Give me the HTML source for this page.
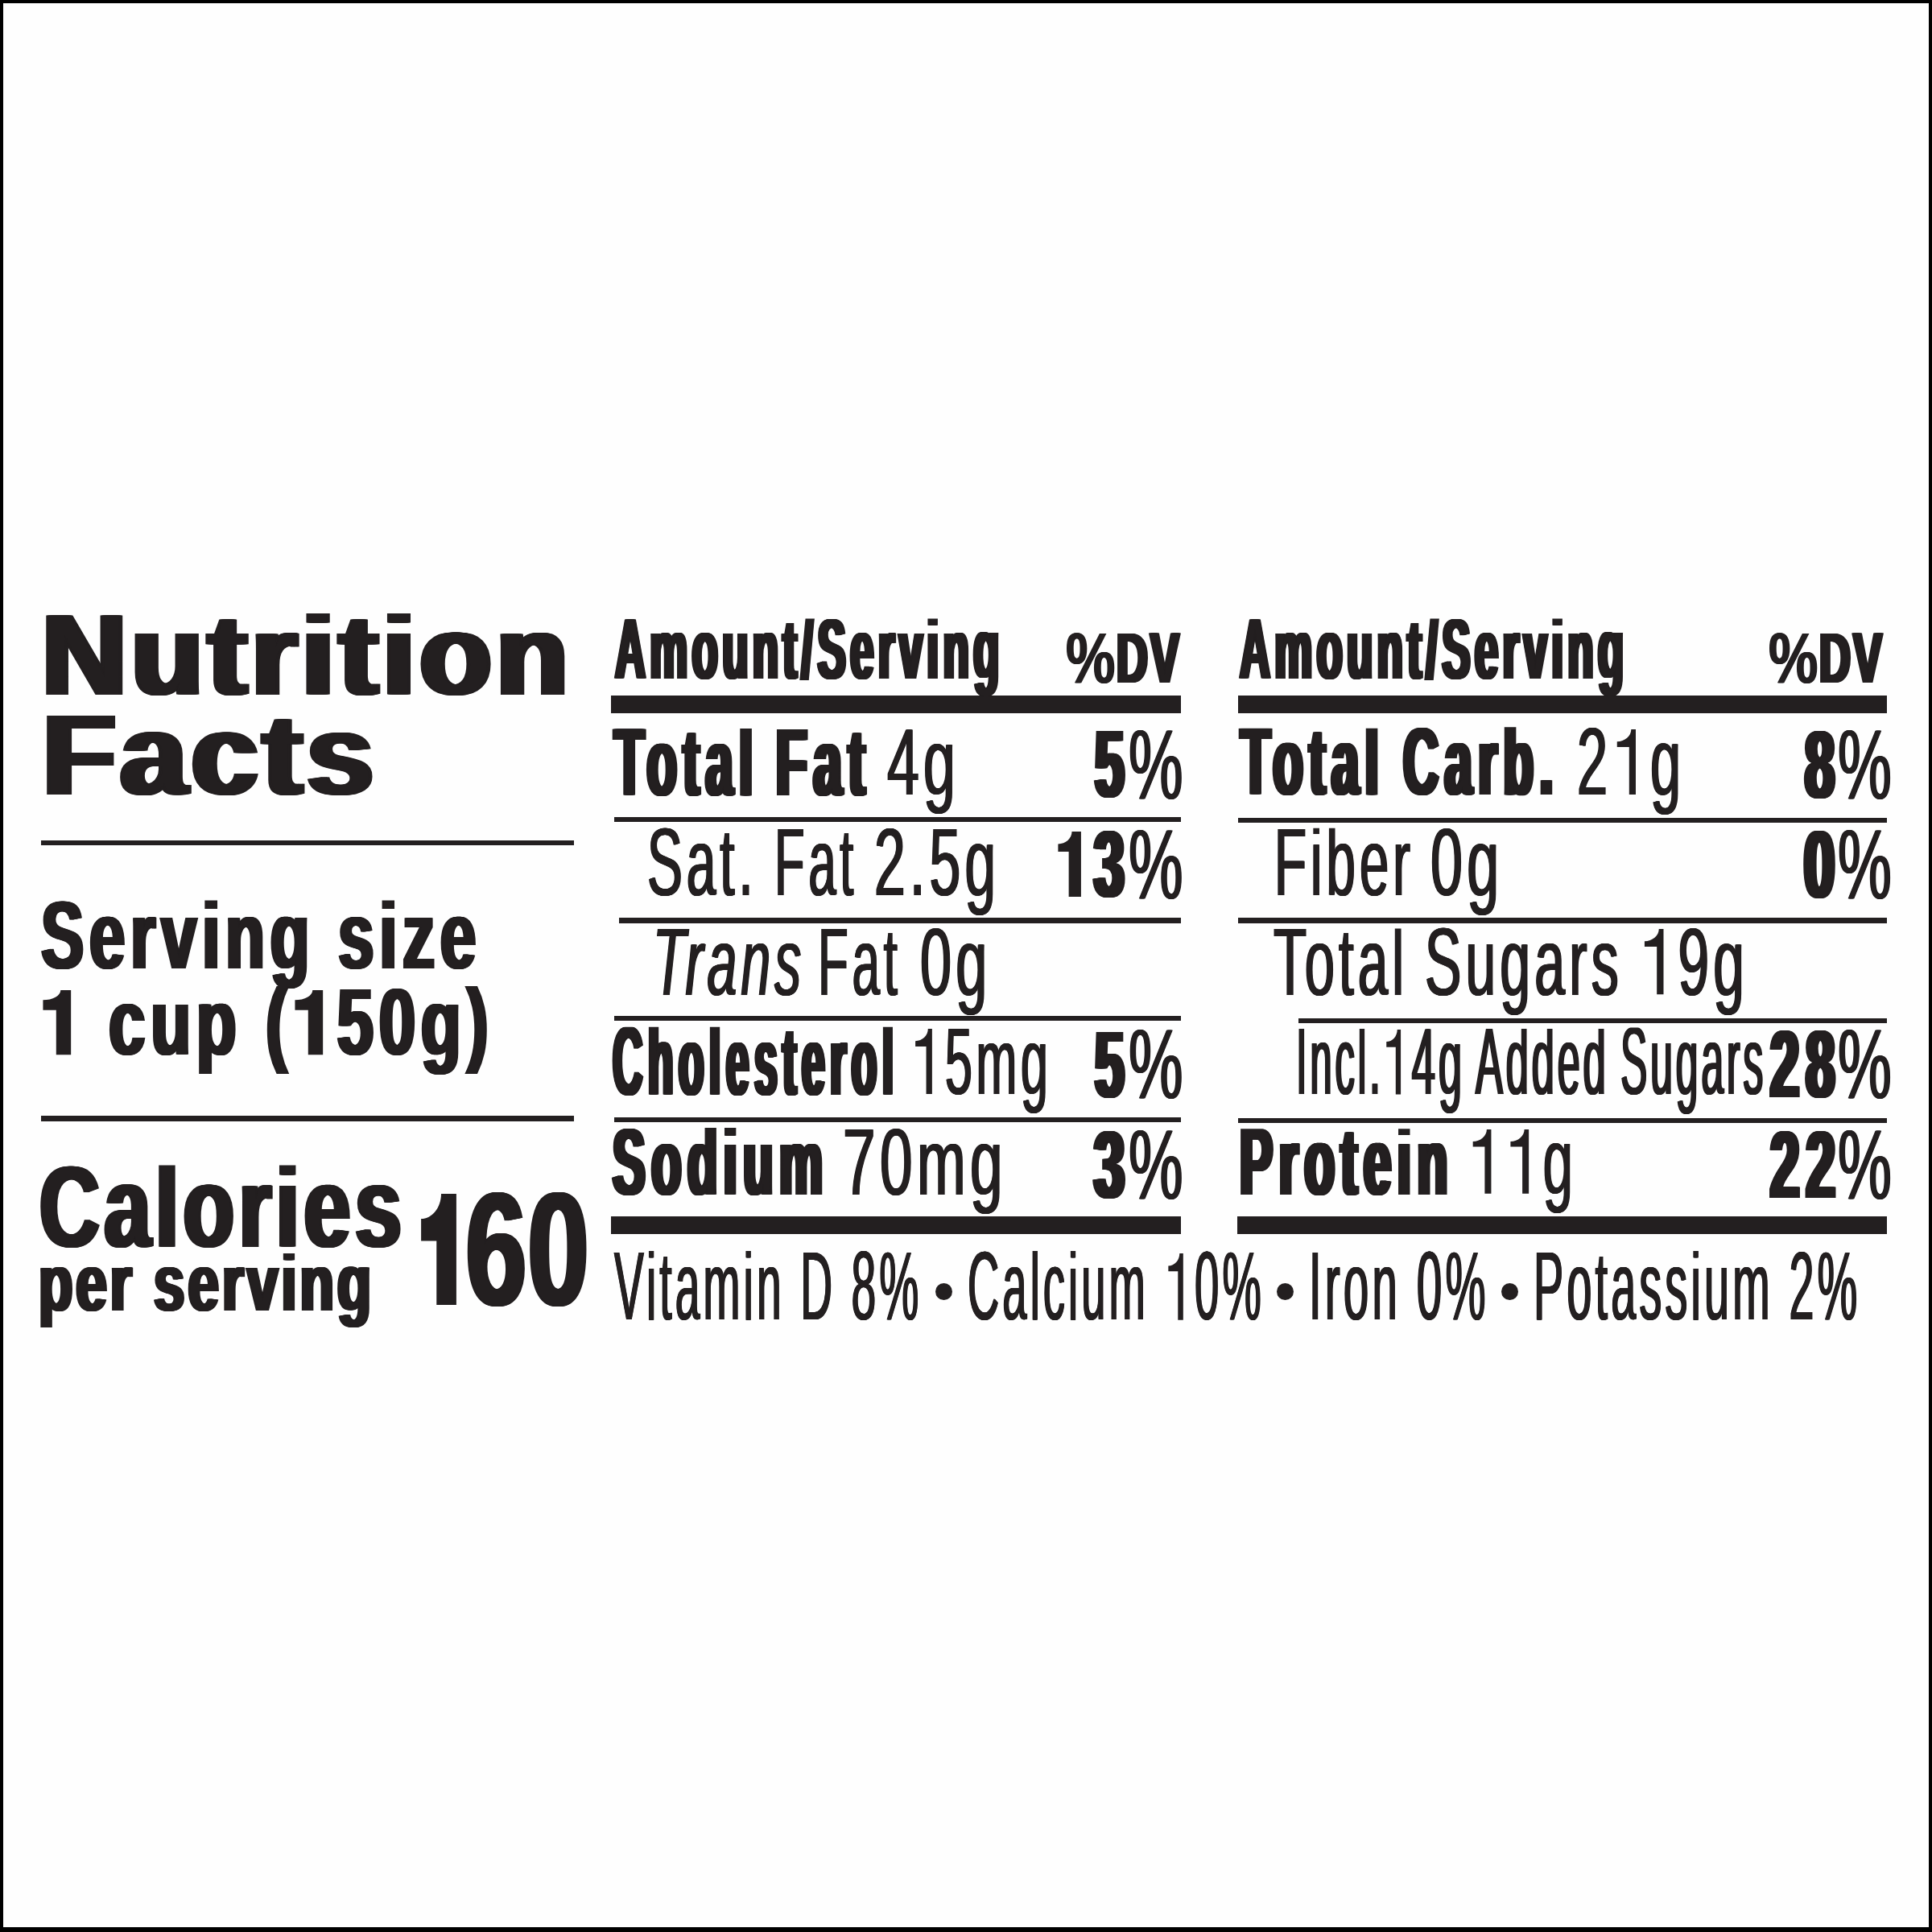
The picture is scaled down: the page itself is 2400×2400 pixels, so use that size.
<!DOCTYPE html>
<html><head><meta charset="utf-8"><title>Nutrition Facts</title>
<style>
html,body{margin:0;padding:0;background:#fefefe;}
body{width:2400px;height:2400px;position:relative;overflow:hidden;font-family:"Liberation Sans",sans-serif;color:#231f20;}
.frame{position:absolute;left:0;top:0;width:2400px;height:2400px;box-sizing:border-box;border-style:solid;border-color:#000;border-width:4px 4px 6px 4px;}
.t{position:absolute;white-space:pre;line-height:1;transform-origin:0 0;}
.r{position:absolute;background:#231f20;}
.b{position:absolute;background:#231f20;border-radius:50%;}
.one{display:inline-block;vertical-align:baseline;overflow:visible;}
.h1{font-size:0;letter-spacing:0;text-shadow:none;}
</style></head><body>
<div class="frame"></div>
<div class="r" style="left:50.9px;top:1043.5px;width:661.9px;height:6.5px"></div>
<div class="r" style="left:50.9px;top:1386.2px;width:661.9px;height:6.6px"></div>
<div class="r" style="left:758.5px;top:864.1px;width:708.7px;height:22.1px"></div>
<div class="r" style="left:762.6px;top:1014.5px;width:704.6px;height:6.2px"></div>
<div class="r" style="left:769.2px;top:1140.2px;width:698.0px;height:6.4px"></div>
<div class="r" style="left:762.6px;top:1262.1px;width:704.6px;height:6.2px"></div>
<div class="r" style="left:762.6px;top:1388.0px;width:704.6px;height:5.8px"></div>
<div class="r" style="left:758.5px;top:1511.2px;width:708.7px;height:22.0px"></div>
<div class="r" style="left:1538.3px;top:864.1px;width:806.1px;height:22.1px"></div>
<div class="r" style="left:1538.3px;top:1015.8px;width:806.1px;height:6.7px"></div>
<div class="r" style="left:1538.3px;top:1140.4px;width:806.1px;height:6.7px"></div>
<div class="r" style="left:1613.4px;top:1265.0px;width:731.0px;height:6.2px"></div>
<div class="r" style="left:1538.3px;top:1389.0px;width:806.1px;height:6.3px"></div>
<div class="r" style="left:1537.3px;top:1511.2px;width:807.1px;height:22.0px"></div>
<div class="b" style="left:1161.9px;top:1593.5px;width:21.4px;height:21.4px"></div>
<div class="b" style="left:1585.9px;top:1593.5px;width:21.4px;height:21.4px"></div>
<div class="b" style="left:1865.1px;top:1593.5px;width:21.4px;height:21.4px"></div>
<div class="t" style="left:51.88px;top:743.05px;transform:scaleX(1.0236);font-weight:bold;font-style:normal;font-size:142.90px;letter-spacing:5.43px;text-shadow:1.13px 0 0 #231f20, -1.13px 0 0 #231f20, 2.25px 0 0 #231f20, -2.25px 0 0 #231f20, 3.38px 0 0 #231f20, -3.38px 0 0 #231f20, 4.50px 0 0 #231f20, -4.50px 0 0 #231f20;clip-path:inset(18.93px -300px -300px -300px);">Nutrition</div>
<div class="t" style="left:52.90px;top:867.37px;transform:scaleX(1.0414);font-weight:bold;font-style:normal;font-size:142.75px;letter-spacing:5.42px;text-shadow:1.50px 0 0 #231f20, -1.50px 0 0 #231f20, 3.00px 0 0 #231f20, -3.00px 0 0 #231f20, 4.50px 0 0 #231f20, -4.50px 0 0 #231f20;clip-path:inset(18.91px -300px -300px -300px);">Facts</div>
<div class="t" style="left:50.90px;top:1101.96px;transform:scaleX(0.6706);font-weight:bold;font-style:normal;font-size:118.99px;letter-spacing:10.11px;text-shadow:1.15px 0 0 #231f20, -1.15px 0 0 #231f20, 2.30px 0 0 #231f20, -2.30px 0 0 #231f20, 3.45px 0 0 #231f20, -3.45px 0 0 #231f20;clip-path:inset(16.66px -300px -300px -300px);">Serving size</div>
<div class="t" style="left:51.36px;top:1212.32px;transform:scaleX(0.6971);font-weight:bold;font-style:normal;font-size:116.67px;letter-spacing:9.92px;text-shadow:1.13px 0 0 #231f20, -1.13px 0 0 #231f20, 2.26px 0 0 #231f20, -2.26px 0 0 #231f20, 3.38px 0 0 #231f20, -3.38px 0 0 #231f20;"><svg class="one" viewBox="0 0 672 688" preserveAspectRatio="none" style="width:0.6720em;height:0.6880em"><path d="M231 688L457 688L457 0L299 0C299 58 178 106 30 106L30 213L231 213Z" fill="#231f20"/></svg><span class="h1">1</span> cup (<svg class="one" viewBox="0 0 672 688" preserveAspectRatio="none" style="width:0.6720em;height:0.6880em"><path d="M231 688L457 688L457 0L299 0C299 58 178 106 30 106L30 213L231 213Z" fill="#231f20"/></svg><span class="h1">1</span>50g)</div>
<div class="t" style="left:49.07px;top:1428.13px;transform:scaleX(0.7235);font-weight:bold;font-style:normal;font-size:143.04px;letter-spacing:8.15px;text-shadow:1.43px 0 0 #231f20, -1.43px 0 0 #231f20, 2.86px 0 0 #231f20, -2.86px 0 0 #231f20, 4.29px 0 0 #231f20, -4.29px 0 0 #231f20;clip-path:inset(19.45px -300px -300px -300px);">Calories</div>
<div class="t" style="left:48.32px;top:1543.01px;transform:scaleX(0.6891);font-weight:bold;font-style:normal;font-size:100.58px;letter-spacing:5.73px;text-shadow:1.17px 0 0 #231f20, -1.17px 0 0 #231f20, 2.35px 0 0 #231f20, -2.35px 0 0 #231f20, 3.52px 0 0 #231f20, -3.52px 0 0 #231f20;clip-path:inset(14.08px -300px -300px -300px);">per serving</div>
<div class="t" style="left:519.29px;top:1451.63px;transform:scaleX(0.6828);font-weight:bold;font-style:normal;font-size:200.43px;letter-spacing:1.50px;text-shadow:1.27px 0 0 #231f20, -1.27px 0 0 #231f20, 2.54px 0 0 #231f20, -2.54px 0 0 #231f20, 3.81px 0 0 #231f20, -3.81px 0 0 #231f20;"><svg class="one" viewBox="0 0 433 688" preserveAspectRatio="none" style="width:0.4331em;height:0.6880em"><path d="M170 688L350 688L350 0L212 0C212 86 130 155 30 155L30 292L170 292Z" fill="#231f20"/></svg><span class="h1">1</span>60</div>
<div class="t" style="left:763.91px;top:753.71px;transform:scaleX(0.4999);font-weight:bold;font-style:normal;font-size:105.07px;letter-spacing:11.03px;text-shadow:1.31px 0 0 #231f20, -1.31px 0 0 #231f20, 2.63px 0 0 #231f20, -2.63px 0 0 #231f20, 3.94px 0 0 #231f20, -3.94px 0 0 #231f20, 5.25px 0 0 #231f20, -5.25px 0 0 #231f20;clip-path:inset(14.71px -300px -300px -300px);">Amount/Serving</div>
<div class="t" style="left:1323.96px;top:773.22px;transform:scaleX(0.7705);font-weight:bold;font-style:normal;font-size:89.57px;letter-spacing:0.00px;text-shadow:0.90px 0 0 #231f20, -0.90px 0 0 #231f20;clip-path:inset(12.54px -300px -300px -300px);">%</div>
<div class="t" style="left:1387.23px;top:773.22px;transform:scaleX(0.5998);font-weight:bold;font-style:normal;font-size:89.57px;letter-spacing:5.37px;text-shadow:1.34px 0 0 #231f20, -1.34px 0 0 #231f20, 2.69px 0 0 #231f20, -2.69px 0 0 #231f20, 4.03px 0 0 #231f20, -4.03px 0 0 #231f20;clip-path:inset(12.54px -300px -300px -300px);">DV</div>
<div class="t" style="left:762.55px;top:886.79px;transform:scaleX(0.5122);font-weight:bold;font-style:normal;font-size:119.42px;letter-spacing:14.93px;text-shadow:1.49px 0 0 #231f20, -1.49px 0 0 #231f20, 2.99px 0 0 #231f20, -2.99px 0 0 #231f20, 4.48px 0 0 #231f20, -4.48px 0 0 #231f20, 5.97px 0 0 #231f20, -5.97px 0 0 #231f20;clip-path:inset(18.15px -300px -300px -300px);">Total</div>
<div class="t" style="left:963.85px;top:886.79px;transform:scaleX(0.5293);font-weight:bold;font-style:normal;font-size:119.42px;letter-spacing:14.93px;text-shadow:1.49px 0 0 #231f20, -1.49px 0 0 #231f20, 2.99px 0 0 #231f20, -2.99px 0 0 #231f20, 4.48px 0 0 #231f20, -4.48px 0 0 #231f20, 5.97px 0 0 #231f20, -5.97px 0 0 #231f20;clip-path:inset(18.15px -300px -300px -300px);">Fat</div>
<div class="t" style="left:1101.69px;top:888.15px;transform:scaleX(0.6102);font-weight:normal;font-style:normal;font-size:117.12px;letter-spacing:8.78px;text-shadow:0.82px 0 0 #231f20, -0.82px 0 0 #231f20, 1.64px 0 0 #231f20, -1.64px 0 0 #231f20;">4g</div>
<div class="t" style="left:1359.71px;top:891.23px;transform:scaleX(0.5572);font-weight:bold;font-style:normal;font-size:117.86px;letter-spacing:14.73px;text-shadow:1.47px 0 0 #231f20, -1.47px 0 0 #231f20, 2.95px 0 0 #231f20, -2.95px 0 0 #231f20, 4.42px 0 0 #231f20, -4.42px 0 0 #231f20, 5.89px 0 0 #231f20, -5.89px 0 0 #231f20;">5</div>
<div class="t" style="left:1402.48px;top:888.71px;transform:scaleX(0.6192);font-weight:normal;font-style:normal;font-size:122.70px;letter-spacing:9.20px;text-shadow:0.86px 0 0 #231f20, -0.86px 0 0 #231f20, 1.72px 0 0 #231f20, -1.72px 0 0 #231f20;">%</div>
<div class="t" style="left:804.30px;top:1011.33px;transform:scaleX(0.5516);font-weight:normal;font-style:normal;font-size:119.13px;letter-spacing:8.93px;text-shadow:0.83px 0 0 #231f20, -0.83px 0 0 #231f20, 1.67px 0 0 #231f20, -1.67px 0 0 #231f20;clip-path:inset(16.68px -300px -300px -300px);">Sat.</div>
<div class="t" style="left:961.89px;top:1011.33px;transform:scaleX(0.5174);font-weight:normal;font-style:normal;font-size:119.13px;letter-spacing:8.93px;text-shadow:0.83px 0 0 #231f20, -0.83px 0 0 #231f20, 1.67px 0 0 #231f20, -1.67px 0 0 #231f20;clip-path:inset(18.11px -300px -300px -300px);">Fat</div>
<div class="t" style="left:1086.46px;top:1011.33px;transform:scaleX(0.5842);font-weight:normal;font-style:normal;font-size:119.13px;letter-spacing:8.93px;text-shadow:0.83px 0 0 #231f20, -0.83px 0 0 #231f20, 1.67px 0 0 #231f20, -1.67px 0 0 #231f20;clip-path:inset(16.68px -300px -300px -300px);">2.5g</div>
<div class="t" style="left:1311.20px;top:1015.13px;transform:scaleX(0.5768);font-weight:bold;font-style:normal;font-size:117.75px;letter-spacing:14.72px;text-shadow:1.47px 0 0 #231f20, -1.47px 0 0 #231f20, 2.94px 0 0 #231f20, -2.94px 0 0 #231f20, 4.42px 0 0 #231f20, -4.42px 0 0 #231f20, 5.89px 0 0 #231f20, -5.89px 0 0 #231f20;"><svg class="one" viewBox="0 0 705 688" preserveAspectRatio="none" style="width:0.7050em;height:0.6880em"><path d="M245 688L470 688L470 0L302 0C302 72 189 131 50 131L50 213L245 213Z" fill="#231f20"/></svg><span class="h1">1</span>3</div>
<div class="t" style="left:1402.48px;top:1012.61px;transform:scaleX(0.6192);font-weight:normal;font-style:normal;font-size:122.70px;letter-spacing:9.20px;text-shadow:0.86px 0 0 #231f20, -0.86px 0 0 #231f20, 1.72px 0 0 #231f20, -1.72px 0 0 #231f20;">%</div>
<div class="t" style="left:811.33px;top:1135.58px;transform:scaleX(0.5575);font-weight:normal;font-style:italic;font-size:118.84px;letter-spacing:8.91px;text-shadow:0.83px 0 0 #231f20, -0.83px 0 0 #231f20, 1.66px 0 0 #231f20, -1.66px 0 0 #231f20;clip-path:inset(18.06px -300px -300px -300px);">Trans</div>
<div class="t" style="left:1016.46px;top:1135.58px;transform:scaleX(0.5214);font-weight:normal;font-style:normal;font-size:118.84px;letter-spacing:8.91px;text-shadow:0.83px 0 0 #231f20, -0.83px 0 0 #231f20, 1.66px 0 0 #231f20, -1.66px 0 0 #231f20;clip-path:inset(18.06px -300px -300px -300px);">Fat</div>
<div class="t" style="left:1142.55px;top:1135.56px;transform:scaleX(0.5896);font-weight:normal;font-style:normal;font-size:118.87px;letter-spacing:8.92px;text-shadow:0.83px 0 0 #231f20, -0.83px 0 0 #231f20, 1.66px 0 0 #231f20, -1.66px 0 0 #231f20;">0g</div>
<div class="t" style="left:761.22px;top:1258.81px;transform:scaleX(0.4289);font-weight:bold;font-style:normal;font-size:120.58px;letter-spacing:15.07px;text-shadow:1.21px 0 0 #231f20, -1.21px 0 0 #231f20, 2.41px 0 0 #231f20, -2.41px 0 0 #231f20, 3.62px 0 0 #231f20, -3.62px 0 0 #231f20, 4.82px 0 0 #231f20, -4.82px 0 0 #231f20, 6.03px 0 0 #231f20, -6.03px 0 0 #231f20;clip-path:inset(16.88px -300px -300px -300px);">Cholesterol</div>
<div class="t" style="left:1130.79px;top:1260.06px;transform:scaleX(0.5192);font-weight:normal;font-style:normal;font-size:117.68px;letter-spacing:8.83px;text-shadow:0.82px 0 0 #231f20, -0.82px 0 0 #231f20, 1.65px 0 0 #231f20, -1.65px 0 0 #231f20;"><svg class="one" viewBox="0 0 700 688" preserveAspectRatio="none" style="width:0.7000em;height:0.6880em"><path d="M320 688L440 688L440 0L357 0C357 71 241 129 100 129L100 186L320 186Z" fill="#231f20"/></svg><span class="h1">1</span>5mg</div>
<div class="t" style="left:1359.71px;top:1264.20px;transform:scaleX(0.5592);font-weight:bold;font-style:normal;font-size:117.43px;letter-spacing:14.68px;text-shadow:1.47px 0 0 #231f20, -1.47px 0 0 #231f20, 2.94px 0 0 #231f20, -2.94px 0 0 #231f20, 4.40px 0 0 #231f20, -4.40px 0 0 #231f20, 5.87px 0 0 #231f20, -5.87px 0 0 #231f20;">5</div>
<div class="t" style="left:1402.48px;top:1261.29px;transform:scaleX(0.6185);font-weight:normal;font-style:normal;font-size:122.84px;letter-spacing:9.21px;text-shadow:0.86px 0 0 #231f20, -0.86px 0 0 #231f20, 1.72px 0 0 #231f20, -1.72px 0 0 #231f20;">%</div>
<div class="t" style="left:760.82px;top:1384.56px;transform:scaleX(0.5170);font-weight:bold;font-style:normal;font-size:117.68px;letter-spacing:14.71px;text-shadow:1.47px 0 0 #231f20, -1.47px 0 0 #231f20, 2.94px 0 0 #231f20, -2.94px 0 0 #231f20, 4.41px 0 0 #231f20, -4.41px 0 0 #231f20, 5.88px 0 0 #231f20, -5.88px 0 0 #231f20;clip-path:inset(16.48px -300px -300px -300px);">Sodium</div>
<div class="t" style="left:1046.59px;top:1385.91px;transform:scaleX(0.6274);font-weight:normal;font-style:normal;font-size:116.09px;letter-spacing:8.71px;text-shadow:0.81px 0 0 #231f20, -0.81px 0 0 #231f20, 1.63px 0 0 #231f20, -1.63px 0 0 #231f20;">70mg</div>
<div class="t" style="left:1358.81px;top:1387.72px;transform:scaleX(0.5775);font-weight:bold;font-style:normal;font-size:118.45px;letter-spacing:14.81px;text-shadow:1.48px 0 0 #231f20, -1.48px 0 0 #231f20, 2.96px 0 0 #231f20, -2.96px 0 0 #231f20, 4.44px 0 0 #231f20, -4.44px 0 0 #231f20, 5.92px 0 0 #231f20, -5.92px 0 0 #231f20;">3</div>
<div class="t" style="left:1402.48px;top:1385.53px;transform:scaleX(0.6199);font-weight:normal;font-style:normal;font-size:122.55px;letter-spacing:9.19px;text-shadow:0.86px 0 0 #231f20, -0.86px 0 0 #231f20, 1.72px 0 0 #231f20, -1.72px 0 0 #231f20;">%</div>
<div class="t" style="left:763.25px;top:1537.18px;transform:scaleX(0.4588);font-weight:normal;font-style:normal;font-size:120.14px;letter-spacing:9.01px;text-shadow:0.84px 0 0 #231f20, -0.84px 0 0 #231f20, 1.68px 0 0 #231f20, -1.68px 0 0 #231f20;clip-path:inset(16.82px -300px -300px -300px);">Vitamin D 8%</div>
<div class="t" style="left:1201.60px;top:1537.18px;transform:scaleX(0.4525);font-weight:normal;font-style:normal;font-size:120.14px;letter-spacing:9.01px;text-shadow:0.84px 0 0 #231f20, -0.84px 0 0 #231f20, 1.68px 0 0 #231f20, -1.68px 0 0 #231f20;clip-path:inset(16.82px -300px -300px -300px);">Calcium <svg class="one" viewBox="0 0 700 688" preserveAspectRatio="none" style="width:0.7000em;height:0.6880em"><path d="M320 688L440 688L440 0L357 0C357 71 241 129 100 129L100 186L320 186Z" fill="#231f20"/></svg><span class="h1">1</span>0%</div>
<div class="t" style="left:1626.29px;top:1537.18px;transform:scaleX(0.4691);font-weight:normal;font-style:normal;font-size:120.14px;letter-spacing:9.01px;text-shadow:0.84px 0 0 #231f20, -0.84px 0 0 #231f20, 1.68px 0 0 #231f20, -1.68px 0 0 #231f20;clip-path:inset(16.82px -300px -300px -300px);">Iron 0%</div>
<div class="t" style="left:1904.70px;top:1537.18px;transform:scaleX(0.4639);font-weight:normal;font-style:normal;font-size:120.14px;letter-spacing:9.01px;text-shadow:0.84px 0 0 #231f20, -0.84px 0 0 #231f20, 1.68px 0 0 #231f20, -1.68px 0 0 #231f20;clip-path:inset(16.82px -300px -300px -300px);">Potassium 2%</div>
<div class="t" style="left:1539.51px;top:753.71px;transform:scaleX(0.4996);font-weight:bold;font-style:normal;font-size:105.07px;letter-spacing:11.03px;text-shadow:1.31px 0 0 #231f20, -1.31px 0 0 #231f20, 2.63px 0 0 #231f20, -2.63px 0 0 #231f20, 3.94px 0 0 #231f20, -3.94px 0 0 #231f20, 5.25px 0 0 #231f20, -5.25px 0 0 #231f20;clip-path:inset(14.71px -300px -300px -300px);">Amount/Serving</div>
<div class="t" style="left:2196.76px;top:773.22px;transform:scaleX(0.7705);font-weight:bold;font-style:normal;font-size:89.57px;letter-spacing:0.00px;text-shadow:0.90px 0 0 #231f20, -0.90px 0 0 #231f20;clip-path:inset(12.54px -300px -300px -300px);">%</div>
<div class="t" style="left:2260.02px;top:773.22px;transform:scaleX(0.6006);font-weight:bold;font-style:normal;font-size:89.57px;letter-spacing:5.37px;text-shadow:1.34px 0 0 #231f20, -1.34px 0 0 #231f20, 2.69px 0 0 #231f20, -2.69px 0 0 #231f20, 4.03px 0 0 #231f20, -4.03px 0 0 #231f20;clip-path:inset(12.54px -300px -300px -300px);">DV</div>
<div class="t" style="left:1541.14px;top:886.47px;transform:scaleX(0.5098);font-weight:bold;font-style:normal;font-size:119.57px;letter-spacing:14.95px;text-shadow:1.49px 0 0 #231f20, -1.49px 0 0 #231f20, 2.99px 0 0 #231f20, -2.99px 0 0 #231f20, 4.48px 0 0 #231f20, -4.48px 0 0 #231f20, 5.98px 0 0 #231f20, -5.98px 0 0 #231f20;clip-path:inset(18.17px -300px -300px -300px);">Total</div>
<div class="t" style="left:1743.21px;top:886.47px;transform:scaleX(0.5101);font-weight:bold;font-style:normal;font-size:119.57px;letter-spacing:14.95px;text-shadow:1.49px 0 0 #231f20, -1.49px 0 0 #231f20, 2.99px 0 0 #231f20, -2.99px 0 0 #231f20, 4.48px 0 0 #231f20, -4.48px 0 0 #231f20, 5.98px 0 0 #231f20, -5.98px 0 0 #231f20;clip-path:inset(16.74px -300px -300px -300px);">Carb.</div>
<div class="t" style="left:1959.01px;top:888.04px;transform:scaleX(0.5800);font-weight:normal;font-style:normal;font-size:117.83px;letter-spacing:8.84px;text-shadow:0.82px 0 0 #231f20, -0.82px 0 0 #231f20, 1.65px 0 0 #231f20, -1.65px 0 0 #231f20;">2<svg class="one" viewBox="0 0 700 688" preserveAspectRatio="none" style="width:0.7000em;height:0.6880em"><path d="M320 688L440 688L440 0L357 0C357 71 241 129 100 129L100 186L320 186Z" fill="#231f20"/></svg><span class="h1">1</span>g</div>
<div class="t" style="left:2241.73px;top:890.34px;transform:scaleX(0.5606);font-weight:bold;font-style:normal;font-size:119.01px;letter-spacing:14.88px;text-shadow:1.49px 0 0 #231f20, -1.49px 0 0 #231f20, 2.98px 0 0 #231f20, -2.98px 0 0 #231f20, 4.46px 0 0 #231f20, -4.46px 0 0 #231f20, 5.95px 0 0 #231f20, -5.95px 0 0 #231f20;">8</div>
<div class="t" style="left:2283.00px;top:888.71px;transform:scaleX(0.6125);font-weight:normal;font-style:normal;font-size:122.70px;letter-spacing:9.20px;text-shadow:0.86px 0 0 #231f20, -0.86px 0 0 #231f20, 1.72px 0 0 #231f20, -1.72px 0 0 #231f20;">%</div>
<div class="t" style="left:1582.81px;top:1010.76px;transform:scaleX(0.5509);font-weight:normal;font-style:normal;font-size:118.99px;letter-spacing:8.92px;text-shadow:0.83px 0 0 #231f20, -0.83px 0 0 #231f20, 1.67px 0 0 #231f20, -1.67px 0 0 #231f20;clip-path:inset(18.09px -300px -300px -300px);">Fiber</div>
<div class="t" style="left:1776.61px;top:1010.74px;transform:scaleX(0.6025);font-weight:normal;font-style:normal;font-size:119.01px;letter-spacing:8.93px;text-shadow:0.83px 0 0 #231f20, -0.83px 0 0 #231f20, 1.67px 0 0 #231f20, -1.67px 0 0 #231f20;">0g</div>
<div class="t" style="left:2241.09px;top:1015.05px;transform:scaleX(0.5792);font-weight:bold;font-style:normal;font-size:118.31px;letter-spacing:14.79px;text-shadow:1.48px 0 0 #231f20, -1.48px 0 0 #231f20, 2.96px 0 0 #231f20, -2.96px 0 0 #231f20, 4.44px 0 0 #231f20, -4.44px 0 0 #231f20, 5.92px 0 0 #231f20, -5.92px 0 0 #231f20;">0</div>
<div class="t" style="left:2283.00px;top:1012.61px;transform:scaleX(0.6125);font-weight:normal;font-style:normal;font-size:122.70px;letter-spacing:9.20px;text-shadow:0.86px 0 0 #231f20, -0.86px 0 0 #231f20, 1.72px 0 0 #231f20, -1.72px 0 0 #231f20;">%</div>
<div class="t" style="left:1581.93px;top:1135.59px;transform:scaleX(0.5689);font-weight:normal;font-style:normal;font-size:118.12px;letter-spacing:8.86px;text-shadow:0.83px 0 0 #231f20, -0.83px 0 0 #231f20, 1.65px 0 0 #231f20, -1.65px 0 0 #231f20;clip-path:inset(17.95px -300px -300px -300px);">Total</div>
<div class="t" style="left:1770.32px;top:1135.59px;transform:scaleX(0.5753);font-weight:normal;font-style:normal;font-size:118.12px;letter-spacing:8.86px;text-shadow:0.83px 0 0 #231f20, -0.83px 0 0 #231f20, 1.65px 0 0 #231f20, -1.65px 0 0 #231f20;clip-path:inset(16.54px -300px -300px -300px);">Sugars</div>
<div class="t" style="left:2035.77px;top:1135.59px;transform:scaleX(0.5870);font-weight:normal;font-style:normal;font-size:118.12px;letter-spacing:8.86px;text-shadow:0.83px 0 0 #231f20, -0.83px 0 0 #231f20, 1.65px 0 0 #231f20, -1.65px 0 0 #231f20;"><svg class="one" viewBox="0 0 700 688" preserveAspectRatio="none" style="width:0.7000em;height:0.6880em"><path d="M320 688L440 688L440 0L357 0C357 71 241 129 100 129L100 186L320 186Z" fill="#231f20"/></svg><span class="h1">1</span>9g</div>
<div class="t" style="left:1609.56px;top:1260.01px;transform:scaleX(0.4160);font-weight:normal;font-style:normal;font-size:117.97px;letter-spacing:8.85px;text-shadow:1.33px 0 0 #231f20, -1.33px 0 0 #231f20, 2.65px 0 0 #231f20, -2.65px 0 0 #231f20;clip-path:inset(17.93px -300px -300px -300px);">Incl.</div>
<div class="t" style="left:1717.45px;top:1260.15px;transform:scaleX(0.4482);font-weight:normal;font-style:normal;font-size:117.12px;letter-spacing:8.78px;text-shadow:1.32px 0 0 #231f20, -1.32px 0 0 #231f20, 2.64px 0 0 #231f20, -2.64px 0 0 #231f20;"><svg class="one" viewBox="0 0 700 688" preserveAspectRatio="none" style="width:0.7000em;height:0.6880em"><path d="M320 688L440 688L440 0L357 0C357 71 241 129 100 129L100 186L320 186Z" fill="#231f20"/></svg><span class="h1">1</span>4g</div>
<div class="t" style="left:1833.31px;top:1260.01px;transform:scaleX(0.4294);font-weight:normal;font-style:normal;font-size:117.97px;letter-spacing:8.85px;text-shadow:1.33px 0 0 #231f20, -1.33px 0 0 #231f20, 2.65px 0 0 #231f20, -2.65px 0 0 #231f20;clip-path:inset(17.93px -300px -300px -300px);">Added</div>
<div class="t" style="left:2013.35px;top:1260.01px;transform:scaleX(0.4242);font-weight:normal;font-style:normal;font-size:117.97px;letter-spacing:8.85px;text-shadow:1.33px 0 0 #231f20, -1.33px 0 0 #231f20, 2.65px 0 0 #231f20, -2.65px 0 0 #231f20;clip-path:inset(16.52px -300px -300px -300px);">Sugars</div>
<div class="t" style="left:2198.67px;top:1263.25px;transform:scaleX(0.5477);font-weight:bold;font-style:normal;font-size:118.31px;letter-spacing:14.79px;text-shadow:1.48px 0 0 #231f20, -1.48px 0 0 #231f20, 2.96px 0 0 #231f20, -2.96px 0 0 #231f20, 4.44px 0 0 #231f20, -4.44px 0 0 #231f20, 5.92px 0 0 #231f20, -5.92px 0 0 #231f20;">28</div>
<div class="t" style="left:2283.00px;top:1261.29px;transform:scaleX(0.6118);font-weight:normal;font-style:normal;font-size:122.84px;letter-spacing:9.21px;text-shadow:0.86px 0 0 #231f20, -0.86px 0 0 #231f20, 1.72px 0 0 #231f20, -1.72px 0 0 #231f20;">%</div>
<div class="t" style="left:1540.48px;top:1384.17px;transform:scaleX(0.5205);font-weight:bold;font-style:normal;font-size:118.26px;letter-spacing:14.78px;text-shadow:1.48px 0 0 #231f20, -1.48px 0 0 #231f20, 2.96px 0 0 #231f20, -2.96px 0 0 #231f20, 4.43px 0 0 #231f20, -4.43px 0 0 #231f20, 5.91px 0 0 #231f20, -5.91px 0 0 #231f20;clip-path:inset(17.98px -300px -300px -300px);">Protein</div>
<div class="t" style="left:1823.01px;top:1386.03px;transform:scaleX(0.5768);font-weight:normal;font-style:normal;font-size:115.94px;letter-spacing:8.70px;text-shadow:0.81px 0 0 #231f20, -0.81px 0 0 #231f20, 1.62px 0 0 #231f20, -1.62px 0 0 #231f20;"><svg class="one" viewBox="0 0 700 688" preserveAspectRatio="none" style="width:0.7000em;height:0.6880em"><path d="M320 688L440 688L440 0L357 0C357 71 241 129 100 129L100 186L320 186Z" fill="#231f20"/></svg><span class="h1">1</span><svg class="one" viewBox="0 0 700 688" preserveAspectRatio="none" style="width:0.7000em;height:0.6880em"><path d="M320 688L440 688L440 0L357 0C357 71 241 129 100 129L100 186L320 186Z" fill="#231f20"/></svg><span class="h1">1</span>g</div>
<div class="t" style="left:2198.68px;top:1387.73px;transform:scaleX(0.5515);font-weight:bold;font-style:normal;font-size:118.43px;letter-spacing:14.80px;text-shadow:1.48px 0 0 #231f20, -1.48px 0 0 #231f20, 2.96px 0 0 #231f20, -2.96px 0 0 #231f20, 4.44px 0 0 #231f20, -4.44px 0 0 #231f20, 5.92px 0 0 #231f20, -5.92px 0 0 #231f20;">22</div>
<div class="t" style="left:2283.00px;top:1385.53px;transform:scaleX(0.6132);font-weight:normal;font-style:normal;font-size:122.55px;letter-spacing:9.19px;text-shadow:0.86px 0 0 #231f20, -0.86px 0 0 #231f20, 1.72px 0 0 #231f20, -1.72px 0 0 #231f20;">%</div>
</body></html>
